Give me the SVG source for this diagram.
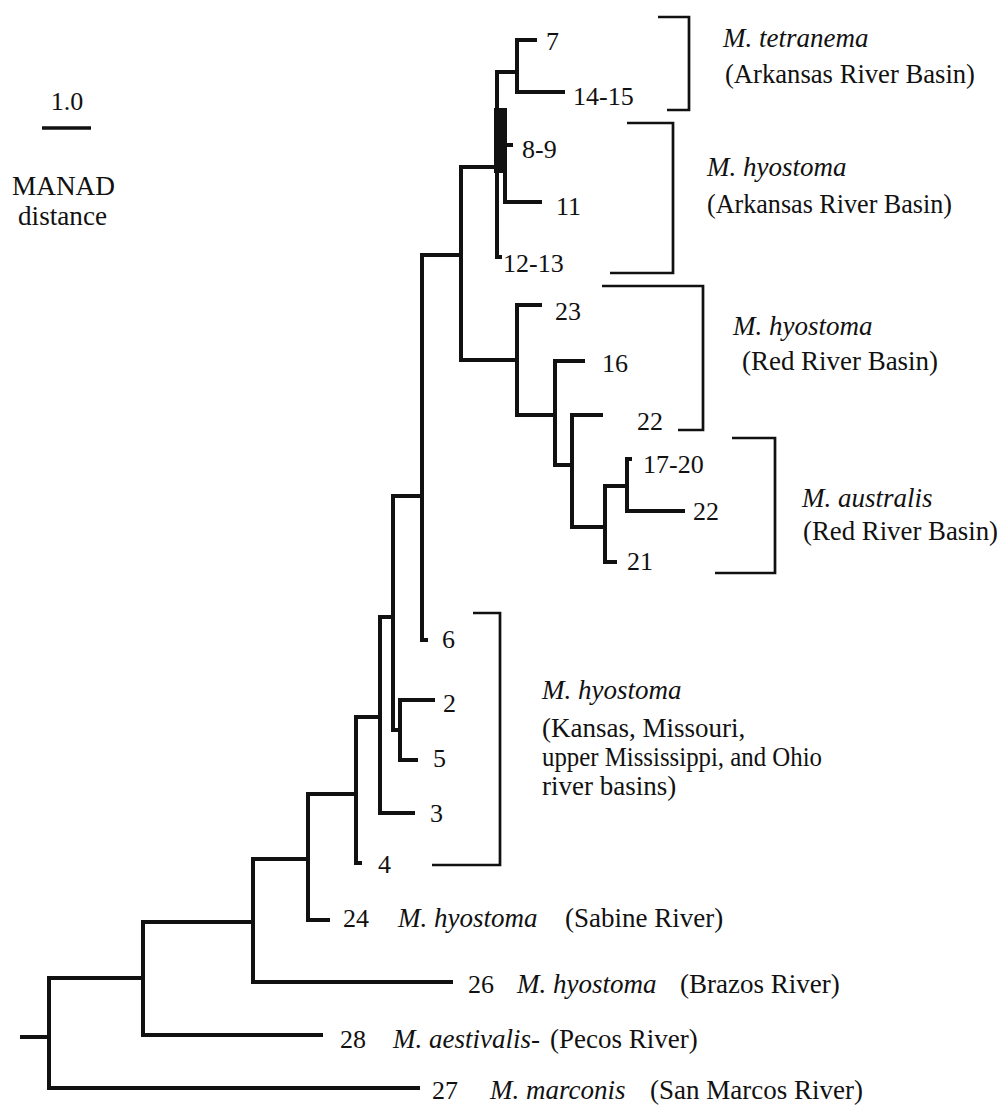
<svg xmlns="http://www.w3.org/2000/svg" width="1004" height="1109" viewBox="0 0 1004 1109">
<style>
.br{fill:none;stroke:#111;stroke-width:4;stroke-linejoin:miter;stroke-linecap:butt}
.bk{fill:none;stroke:#111;stroke-width:2.7}
.n{font-family:"Liberation Serif","Times New Roman",serif;font-size:26px;fill:#111}
.t{font-family:"Liberation Serif","Times New Roman",serif;font-size:27px;fill:#111}
.i{font-style:italic}
</style>
<rect width="1004" height="1109" fill="#fff"/>
<g id="scale">
<text class="n" x="67" y="110" text-anchor="middle" font-size="25">1.0</text>
<path d="M42 128H91" stroke="#111" stroke-width="3.5"/>
<text class="t" x="12" y="195" font-size="26" textLength="103" lengthAdjust="spacingAndGlyphs">MANAD</text>
<text class="t" x="18" y="225" font-size="26" textLength="89" lengthAdjust="spacingAndGlyphs">distance</text>
</g>
<g id="connectors">
<path class="br" d="M20 1037H49"/>
<path class="br" d="M143 978H49V1088H420"/>
<path class="br" d="M253 922H143V1035H323"/>
<path class="br" d="M308 859H253V982H453"/>
<path class="br" d="M356 794H308V920H330"/>
<path class="br" d="M380 717H356V863H362"/>
<path class="br" d="M393 617H380V813H415"/>
<path class="br" d="M422 496H393V730H400"/>
<path class="br" d="M435 700H400V760H418"/>
<path class="br" d="M461 255H422V640H428"/>
<path class="br" d="M497 167H461V360H517"/>
<path class="br" d="M542 305H517V415H555"/>
<path class="br" d="M585 361H555V465H572"/>
<path class="br" d="M603 415H572V527H605"/>
<path class="br" d="M627 486H605V562H617"/>
<path class="br" d="M632 459H627V511H685"/>
<path class="br" d="M517 72H497V257H502"/>
<rect x="494" y="108" width="13" height="65" fill="#111"/>
<path class="br" d="M505 173V202H542"/>
<path class="br" d="M507 145H513"/>
<path class="br" d="M537 40H517V92H565"/>
</g>
<g id="tip-7"><text class="n" x="546" y="50">7</text></g>
<g id="tip-14-15"><text class="n" x="573" y="105">14-15</text></g>
<g id="tip-8-9"><text class="n" x="522" y="158">8-9</text></g>
<g id="tip-11"><text class="n" x="556" y="215">11</text></g>
<g id="tip-12-13"><text class="n" x="503" y="272">12-13</text></g>
<g id="tip-23"><text class="n" x="555" y="320">23</text></g>
<g id="tip-16"><text class="n" x="602" y="372">16</text></g>
<g id="tip-22a"><text class="n" x="637" y="430">22</text></g>
<g id="tip-17-20"><text class="n" x="643" y="473">17-20</text></g>
<g id="tip-22b"><text class="n" x="693" y="520">22</text></g>
<g id="tip-21"><text class="n" x="627" y="570">21</text></g>
<g id="tip-6"><text class="n" x="442" y="648">6</text></g>
<g id="tip-2"><text class="n" x="443" y="712">2</text></g>
<g id="tip-5"><text class="n" x="433" y="767">5</text></g>
<g id="tip-3"><text class="n" x="430" y="822">3</text></g>
<g id="tip-4"><text class="n" x="378" y="873">4</text></g>
<g id="tip-24"><text class="n" x="343" y="927">24</text><text class="t i" x="398" y="927">M. hyostoma</text><text class="t" x="565" y="927">(Sabine River)</text></g>
<g id="tip-26"><text class="n" x="468" y="993">26</text><text class="t i" x="517" y="993">M. hyostoma</text><text class="t" x="680" y="993">(Brazos River)</text></g>
<g id="tip-28"><text class="n" x="340" y="1048">28</text><text class="t i" x="393" y="1048">M. aestivalis-</text><text class="t" x="550" y="1048">(Pecos River)</text></g>
<g id="tip-27"><text class="n" x="432" y="1099">27</text><text class="t i" x="490" y="1099">M. marconis</text><text class="t" x="650" y="1099">(San Marcos River)</text></g>
<g id="group-tetranema">
<path class="bk" d="M658 17H689V110H667"/>
<text class="t i" x="723" y="47">M. tetranema</text>
<text class="t" x="725" y="83" textLength="250" lengthAdjust="spacingAndGlyphs">(Arkansas River Basin)</text>
</g>
<g id="group-hyostoma-arkansas">
<path class="bk" d="M627 123H673V273H610"/>
<text class="t i" x="707" y="176">M. hyostoma</text>
<text class="t" x="707" y="213" textLength="245" lengthAdjust="spacingAndGlyphs">(Arkansas River Basin)</text>
</g>
<g id="group-hyostoma-red">
<path class="bk" d="M602 286H703V430H678"/>
<text class="t i" x="733" y="335">M. hyostoma</text>
<text class="t" x="742" y="370" textLength="196" lengthAdjust="spacingAndGlyphs">(Red River Basin)</text>
</g>
<g id="group-australis">
<path class="bk" d="M732 438H775V573H715"/>
<text class="t i" x="802" y="507">M. australis</text>
<text class="t" x="803" y="540" textLength="195" lengthAdjust="spacingAndGlyphs">(Red River Basin)</text>
</g>
<g id="group-hyostoma-kansas">
<path class="bk" d="M473 613H500V865H432"/>
<text class="t i" x="542" y="699">M. hyostoma</text>
<text class="t" x="542" y="737" font-size="26">(Kansas, Missouri,</text>
<text class="t" x="542" y="766" font-size="26" textLength="280" lengthAdjust="spacingAndGlyphs">upper Mississippi, and Ohio</text>
<text class="t" x="542" y="795" font-size="26">river basins)</text>
</g>
</svg>
